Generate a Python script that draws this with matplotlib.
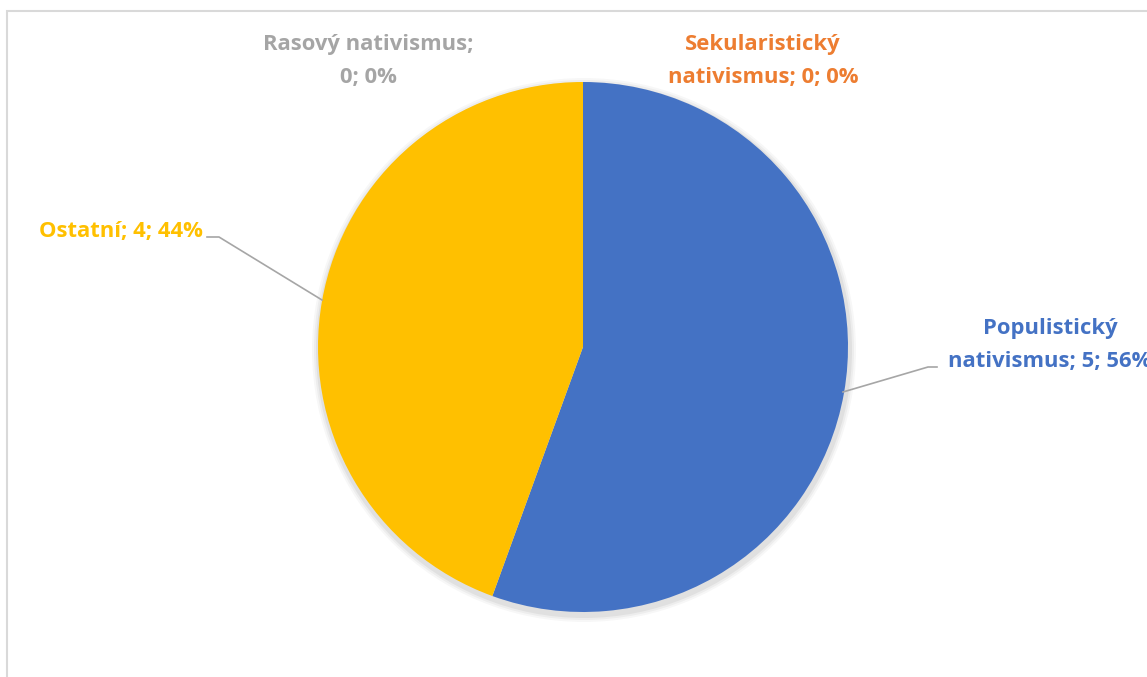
import matplotlib.pyplot as plt
from matplotlib.patches import Rectangle, Circle

plt.rcParams['font.family'] = ['Open Sans', 'DejaVu Sans']

categories = ["Populistický nativismus", "Sekularistický nativismus", "Rasový nativismus", "Ostatní"]
values = [5, 0, 0, 4]
colors = ["#4472C4", "#ED7D31", "#A5A5A5", "#FFC000"]

W, H = 1147, 677
fig = plt.figure(figsize=(W / 100, H / 100), dpi=100)
ax = fig.add_axes([0, 0, 1, 1])

cx, cy, r = 583, H - 347, 265

# soft shadow
for k, a in [(7, 0.03), (5, 0.04), (3, 0.05)]:
    ax.add_patch(Circle((cx + 1, cy - 3), r + k, color="black", alpha=a,
                        linewidth=0, zorder=1))

ax.pie(values, colors=colors, startangle=90, counterclock=False,
       center=(cx, cy), radius=r, frame=True,
       wedgeprops=dict(linewidth=0, zorder=2))
ax.set_xlim(0, W)
ax.set_ylim(0, H)
ax.set_aspect('equal')
ax.axis('off')

# chart frame
ax.add_patch(Rectangle((6.5, -20), W + 20, H - 11 + 20, fill=False,
                       edgecolor="#D9D9D9", linewidth=1.5, zorder=0))

total = sum(values)
pcts = [round(100 * v / total) for v in values]
# line breaks as Excel wrapped them
labels = [
    f"Populistický\nnativismus; {values[0]}; {pcts[0]}%",
    f"Sekularistický\nnativismus; {values[1]}; {pcts[1]}%",
    f"Rasový nativismus;\n{values[2]}; {pcts[2]}%",
    f"{categories[3]}; {values[3]}; {pcts[3]}%",
]

fs = 15.8
kw = dict(fontsize=fs, fontweight='bold', va='center', linespacing=1.7)
ax.text(1050, H - 345, labels[0], color=colors[0], ha='center', **kw)
ax.text(763, H - 61, labels[1], color=colors[1], ha='center', **kw)
ax.text(368, H - 61, labels[2], color=colors[2], ha='center', **kw)
ax.text(203, H - 232, labels[3], color=colors[3], ha='right', **kw)

# leader lines
ax.plot([937, 928, 843], [H - 367, H - 367, H - 392], color="#A6A6A6", lw=1.2, zorder=3)
ax.plot([207, 219, 322], [H - 237, H - 237, H - 300], color="#A6A6A6", lw=1.2, zorder=3)

fig.savefig("out.png", dpi=100)
